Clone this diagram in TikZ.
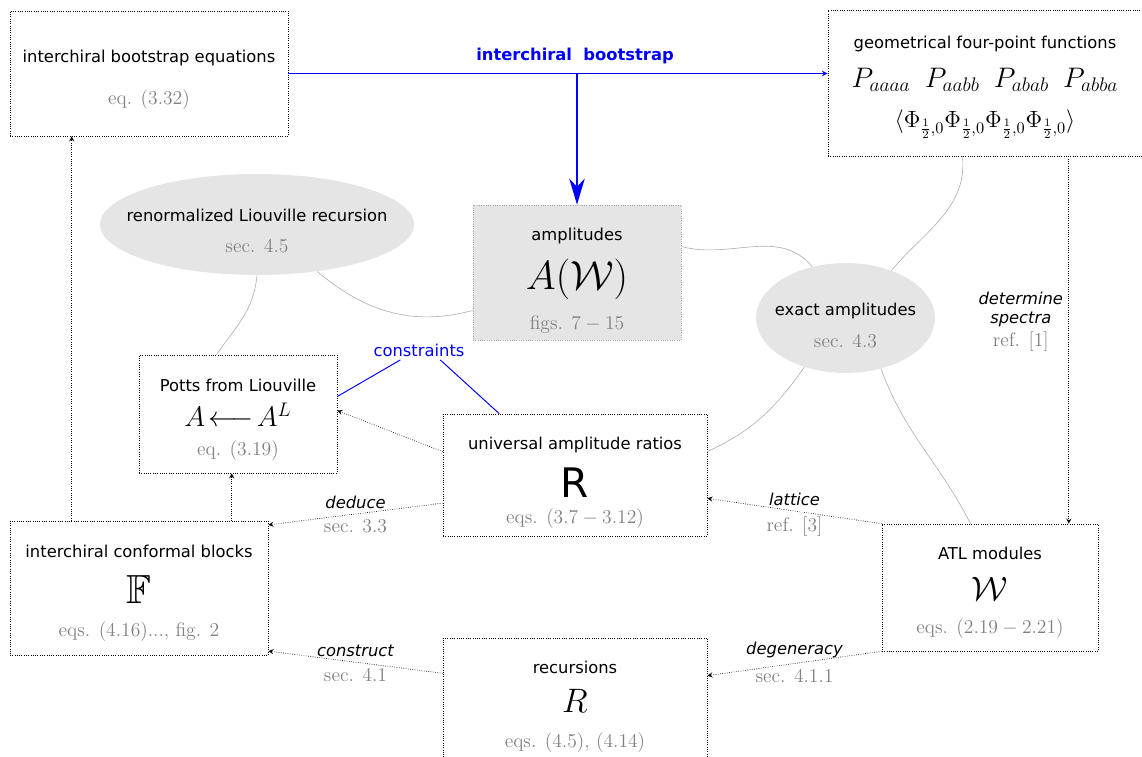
\documentclass[tikz,border=0pt]{standalone}
\usepackage{amsfonts}
\usepackage{amsmath}
\usepackage{fontspec}
\setsansfont{DejaVu Sans}[ItalicFont={DejaVu Sans Oblique},BoldFont={DejaVu Sans Bold}]
\usetikzlibrary{shapes.geometric,arrows.meta}
\newcommand{\src}[1]{{\rmfamily\large\color{gray}#1}}
\newcommand{\lift}[1]{\rule{0pt}{#1}}

\begin{document}
\begin{tikzpicture}[x=0.612pt,y=-0.612pt,font=\sffamily,>=stealth]
	\tikzstyle{box}=[draw,densely dotted,align=center,inner sep=2pt]
	
	\tikzstyle{blob}=[shape=ellipse,fill=black!10,align=center,inner xsep=-16pt,inner ysep=-4pt]
	
	\tikzstyle{link}=[draw=black!30]
	\tikzstyle{flow}=[densely dotted,->]
	
	\useasboundingbox (0,0) rectangle (1142,757);
	
	\node[box,minimum width=170.1pt,minimum height=76.5pt](bootEq) at (149,73.5) {\lift{14.9pt}interchiral bootstrap equations\\[13.7pt]\src{eq. (3.32)}};
	\node[box,minimum width=192.2pt,minimum height=89.4pt](geom) at (985,83) {\lift{13pt}geometrical four-point functions\\[9pt]{\LARGE$P_{aaaa}\enspace P_{aabb}\enspace P_{abab}\enspace P_{abba}$}\\[10pt]{\Large$\langle\Phi_{\frac12,0}\Phi_{\frac12,0}\Phi_{\frac12,0}\Phi_{\frac12,0}\rangle$}};
	
	\node[box,fill=black!10,draw=black!35,minimum width=127.3pt,minimum height=82.6pt](amp) at (577,272.5) {\lift{17.4pt}amplitudes\\[8.3pt]{\Huge$A(\mathcal{W})$}\\[8.7pt]\src{figs. $7-15$}};
	
	\node[blob,minimum width=192.2pt,minimum height=61.8pt](renorm) at (257,224.5) {\lift{15.6pt}renormalized Liouville recursion\\[7pt]\src{sec. 4.5}};
	\node[blob,minimum width=109.5pt,minimum height=67.3pt](exact) at (845.5,318) {\lift{16.8pt}exact amplitudes\\[7pt]\src{sec. 4.3}};
	
	\node[box,minimum width=121.2pt,minimum height=72.2pt](potts) at (238,414) {\lift{14.9pt}Potts from Liouville\\[5.7pt]{\LARGE$A\!\longleftarrow\! A^L$}\\[6.1pt]\src{eq. (3.19)}};
	\node[box,minimum width=161.6pt,minimum height=74.7pt](univ) at (575,475) {\lift{17.4pt}universal amplitude ratios\\[8.1pt]{\Huge R}\\[3.7pt]\src{eqs. $(3.7-3.12)$}};
	\node[box,minimum width=157.9pt,minimum height=82pt](blocks) at (139,588) {\lift{13.7pt}interchiral conformal blocks\\[10pt]{\Huge$\mathbb{F}$}\\[8pt]\src{eqs. (4.16)..., fig. 2}};
	\node[box,minimum width=132.2pt,minimum height=77.7pt](atl) at (990,587.5) {\lift{13.7pt}ATL modules\\[10pt]{\huge$\mathcal{W}$}\\[8pt]\src{eqs. $(2.19-2.21)$}};
	\node[box,minimum width=161.6pt,minimum height=74.7pt](rec) at (575,699) {\lift{17.4pt}recursions\\[8.1pt]{\huge$R$}\\[9.8pt]\src{eqs. (4.5), (4.14)}};
	
	\node[text=blue,inner sep=2pt](cons) at (419,350) {constraints};
	
	% interchiral bootstrap
	\coordinate (split) at (amp.north |- bootEq.east);
	\draw[blue,semithick,->] (bootEq.east) -- (bootEq.east -| geom.west);
	\node[text=blue,font=\sffamily\bfseries](bootLbl) at (575,56) {interchiral\ \ bootstrap};
	\draw[blue,line width=1.2pt,-{Stealth[length=16pt,width=9.5pt,inset=5pt]}] (split) -- (amp.north);
	
	\draw[flow] (blocks.135) -- (blocks.135 |- bootEq.south);
	\draw[flow] (blocks.36) -- (blocks.36 |- potts.south);
	\draw[flow] (univ.170) -- (potts.2);
	\draw[flow] (univ.192) -- (blocks.26) node[midway,above](deduceLbl){\itshape deduce} node[midway,below](deduceRef){\src{sec. 3.3}};
	\draw[flow] (rec.169) -- (blocks.-26) node[midway,above](constructLbl){\itshape construct} node[midway,below](constructRef){\src{sec. 4.1}};
	\draw[flow] (atl.north west) -- (univ.-10) node[midway,above](latticeLbl){\itshape lattice} node[midway,below](latticeRef){\src{ref. [3]}};
	\draw[flow] (atl.south west) -- (rec.10) node[midway,above](degenLbl){\itshape degeneracy} node[midway,below](degenRef){\src{sec. 4.1.1}};
	\draw[flow] (atl.39 |- geom.south) -- (atl.39) node[pos=0.45,left,align=center](spectraLbl){\itshape determine\\\itshape spectra\\[2pt]\src{ref. [1]}};
	
	% related results
	\draw[link] (renorm.-90) to[out=-95,in=55] (potts.110);
	\draw[link] (renorm.-38) to[out=-40,in=195] (amp.200);
	\draw[link] (amp.14) to[out=-15,in=130] (exact.123);
	\draw[link] (geom.-107) to[out=-85,in=50] (exact.46);
	\draw[link] (exact.230) to[out=-125,in=25] (univ.10);
	\draw[link] (exact.-55) to[out=-70,in=117] (atl.107);
	
	\draw[blue,semithick] (cons.208) -- (potts.10);
	\draw[blue,semithick] (cons.-25) -- (univ.141);
	
\end{tikzpicture}
\end{document}
